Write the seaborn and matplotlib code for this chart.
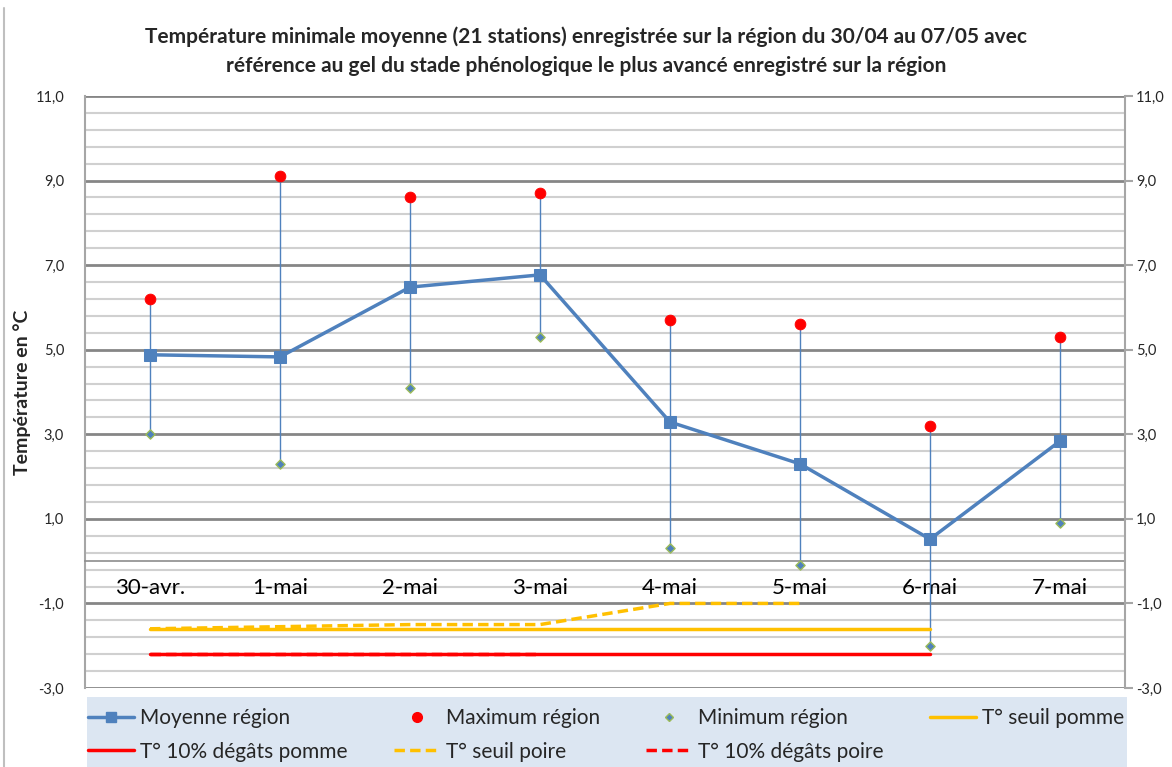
import numpy as np
import pandas as pd
import seaborn as sns
import matplotlib.pyplot as plt
from matplotlib.lines import Line2D
from matplotlib.patches import Rectangle
from matplotlib.ticker import FixedLocator, FuncFormatter

jours = ["30-avr.", "1-mai", "2-mai", "3-mai", "4-mai", "5-mai", "6-mai", "7-mai"]
moyenne = [4.88, 4.83, 6.48, 6.77, 3.29, 2.30, 0.52, 2.84]
maximum = [6.2, 9.1, 8.6, 8.7, 5.7, 5.6, 3.2, 5.3]
minimum = [3.0, 2.3, 4.1, 5.3, 0.3, -0.1, -2.0, 0.9]
seuil_pomme = [-1.6, -1.6, -1.6, -1.6, -1.6, -1.6, -1.6]
degats_pomme = [-2.2, -2.2, -2.2, -2.2, -2.2, -2.2, -2.2]
seuil_poire = [-1.6, -1.55, -1.5, -1.5, -1.0, -1.0]
degats_poire = [-2.2, -2.2, -2.2, -2.2]

sns.set_theme(style="white")
plt.rcParams['font.family'] = ['Lato', 'DejaVu Sans']

bleu = "#4f81bd"
jaune = "#ffc000"
rouge = "#ff0000"

x = np.arange(len(jours))
df = pd.DataFrame({"x": x, "moyenne": moyenne, "max": maximum, "min": minimum})

fig = plt.figure(figsize=(11.72, 7.67), dpi=100)
ax = fig.add_axes([85 / 1172, 1 - 688 / 767, 1040 / 1172, 592 / 767])

# barres min-max
ax.vlines(df["x"], df["min"], df["max"], color=bleu, lw=1, zorder=3)

sns.lineplot(x=x[:len(seuil_pomme)], y=seuil_pomme, ax=ax, color=jaune, lw=2.5, zorder=4)
sns.lineplot(x=x[:len(degats_pomme)], y=degats_pomme, ax=ax, color=rouge, lw=2.5, zorder=4)
sns.lineplot(x=x[:len(seuil_poire)], y=seuil_poire, ax=ax, color=jaune, lw=2.5, zorder=5)
sns.lineplot(x=x[:len(degats_poire)], y=degats_poire, ax=ax, color=rouge, lw=2.5, zorder=5)
for l in ax.lines[-2:]:
    l.set_dashes([3, 1.5])

sns.lineplot(data=df, x="x", y="moyenne", ax=ax, color=bleu, lw=2.5, marker="s",
             markersize=8, markeredgecolor=bleu, zorder=6)
sns.scatterplot(data=df, x="x", y="max", ax=ax, color=rouge, s=60, edgecolor=rouge, zorder=7)
sns.scatterplot(data=df, x="x", y="min", ax=ax, color=bleu, marker="D", s=22,
                edgecolor="#9bbb59", linewidth=1, zorder=7)

ax.set_xlim(-0.5, 7.5)
ax.set_ylim(-3, 11)
ax.spines["bottom"].set_position(("data", 0))
ax.spines["bottom"].set_color("#8c8c8c")
ax.spines["bottom"].set_linewidth(1.2)
ax.spines["top"].set_visible(False)
ax.spines["right"].set_visible(False)
ax.spines["left"].set_color("#a6a6a6")
ax.spines["left"].set_linewidth(1.5)

major = np.arange(-3, 11.01, 2)
minor = np.arange(-3, 11.01, 0.4)
ax.yaxis.set_major_locator(FixedLocator(major))
ax.yaxis.set_minor_locator(FixedLocator(minor))
fmt = FuncFormatter(lambda v, p: f"{v:.1f}".replace(".", ","))
ax.yaxis.set_major_formatter(fmt)
ax.grid(which="major", axis="y", color="#868686", lw=2, zorder=0)
ax.grid(which="minor", axis="y", color="#d0d0d0", lw=1.5, zorder=0)
ax.set_axisbelow(True)
ax.xaxis.set_zorder(2.5)

ax.set_xticks(x)
ax.set_xticklabels(jours)
ax.tick_params(axis="x", length=0, pad=12, colors="#000000", labelsize=16)
ax.tick_params(axis="y", which="both", length=0, labelsize=10.5, pad=15)
ax.set_xlabel("")
ax.set_ylabel("Température en °C", fontsize=14, fontweight="bold", labelpad=3)

ax2 = ax.twinx()
ax2.set_ylim(-3, 11)
ax2.yaxis.set_major_locator(FixedLocator(major))
ax2.yaxis.set_minor_locator(FixedLocator([]))
ax2.yaxis.set_major_formatter(fmt)
for s in ["top", "left", "bottom"]:
    ax2.spines[s].set_visible(False)
ax2.spines["right"].set_color("#a6a6a6")
ax2.spines["right"].set_linewidth(1.5)
ax2.tick_params(axis="y", direction="out", length=6, width=1.5, color="#a6a6a6",
                labelsize=10.5, pad=2, right=True)
ax2.grid(False)

fig.suptitle("Température minimale moyenne (21 stations) enregistrée sur la région du 30/04 au 07/05 avec\n"
             "référence au gel du stade phénologique le plus avancé enregistré sur la région",
             fontsize=15, fontweight="bold", y=0.966, linespacing=1.6)

handles = [
    Line2D([], [], color=bleu, lw=2.5, marker="s", markersize=7),
    Line2D([], [], color=rouge, lw=0, marker="o", markersize=7),
    Line2D([], [], color=bleu, lw=0, marker="D", markersize=4, markeredgecolor="#9bbb59"),
    Line2D([], [], color=jaune, lw=2.5),
    Line2D([], [], color=rouge, lw=2.5),
    Line2D([], [], color=jaune, lw=2.5, dashes=[3, 1.5]),
    Line2D([], [], color=rouge, lw=2.5, dashes=[3, 1.5]),
]
labels = ["Moyenne région", "Maximum région", "Minimum région", "T° seuil pomme",
          "T° 10% dégâts pomme", "T° seuil poire", "T° 10% dégâts poire"]
order = [0, 4, 1, 5, 2, 6, 3]
fig.add_artist(Rectangle((87 / 1172, 0), 1040 / 1172, 70 / 767, transform=fig.transFigure,
                         facecolor="#dce6f2", edgecolor="none"))
leg = fig.legend([handles[i] for i in order], [labels[i] for i in order], ncol=4,
                 loc="upper left", bbox_to_anchor=(88 / 1172, 1 - 716 / 767, 1036 / 1172, 8 / 767),
                 mode="expand", fontsize=15, frameon=False,
                 handlelength=2.2, handletextpad=0.3, borderaxespad=0, labelspacing=0.65,
                 borderpad=0)

fig.add_artist(Line2D([4 / 1172, 4 / 1172], [0, 1 - 8 / 767], color="#bfbfbf", lw=1.5))

fig.savefig("out.png", dpi=100)
